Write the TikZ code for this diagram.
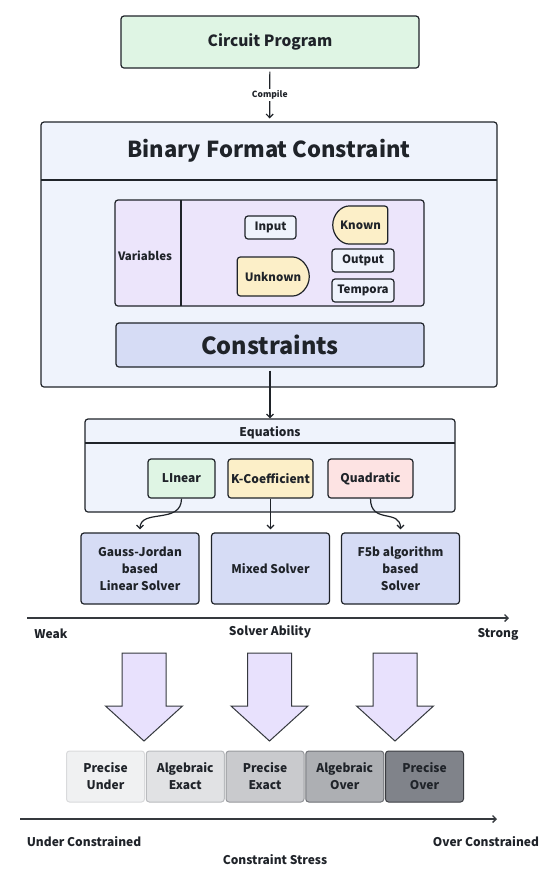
\documentclass[tikz,border=0pt]{standalone}
\usepackage{fontspec}
\setmainfont{Noto Sans CJK SC}
\usetikzlibrary{positioning, arrows.meta, shapes.misc}

\definecolor{ink}{HTML}{1F2329}
\definecolor{greenbg}{HTML}{DFF5E4}
\definecolor{bluebg}{HTML}{EFF3FC}
\definecolor{lilacbg}{HTML}{ECE5FB}
\definecolor{indigobg}{HTML}{D6DCF5}
\definecolor{yellowbg}{HTML}{FCEFC8}
\definecolor{pinkbg}{HTML}{FDE3E3}
\definecolor{arrowbg}{HTML}{E8E1FD}
\definecolor{lvlA}{HTML}{F0F1F2}
\definecolor{lvlB}{HTML}{E1E2E4}
\definecolor{lvlC}{HTML}{C9CACD}
\definecolor{lvlD}{HTML}{ADAFB3}
\definecolor{lvlE}{HTML}{80838A}
\definecolor{lvlAd}{HTML}{D9DADC}
\definecolor{lvlBd}{HTML}{B9BBBE}
\definecolor{lvlCd}{HTML}{97999D}
\definecolor{lvlDd}{HTML}{6E7075}
\definecolor{lvlEd}{HTML}{3B3D42}

\tikzset{
  box/.style={draw=ink, line width=1.2pt, rounded corners=3pt, align=center, text=ink,
    inner sep=0pt, font=\bfseries\fontsize{12}{17}\selectfont},
  tag/.style={box, fill=bluebg, minimum width=62pt, minimum height=23pt,
    font=\bfseries\fontsize{11.5}{14}\selectfont},
  half/.style={box, fill=yellowbg, rounded rectangle, font=\bfseries\fontsize{11.5}{14}\selectfont},
  kind/.style={box, minimum width=85pt, minimum height=39pt},
  solver/.style={box, fill=indigobg, minimum width=118pt, minimum height=71pt},
  level/.style={box, line width=1pt, minimum width=78pt, minimum height=51pt},
  label/.style={text=ink, font=\bfseries\fontsize{12}{15}\selectfont},
  conn/.style={draw=ink, line width=1.2pt, -{Straight Barb[length=3.5pt,width=7pt]}},
  axis/.style={draw=ink!90, line width=1.3pt, -{Straight Barb[length=3.5pt,width=7pt]}},
  bigarrow/.style={draw=ink!90, fill=arrowbg, line width=1pt, line join=miter},
}

\begin{document}
\begin{tikzpicture}[x=1pt, y=-1pt]
  \useasboundingbox (0,0) rectangle (554,884);

  % Source
  \node[box, fill=greenbg, minimum width=298pt, minimum height=52pt,
    font=\bfseries\fontsize{15.5}{19}\selectfont] (circuit) at (270,42) {Circuit Program};

  % Binary format constraint
  \node[box, fill=bluebg, minimum width=456pt, minimum height=265pt] (bfc) at (269,254.5) {};
  \node[text=ink, font=\bfseries\fontsize{22}{26}\selectfont] (bfctitle) at (269,151) {Binary Format Constraint};
  \draw[ink, line width=1.2pt] (41,180) -- (497,180);
  \draw[conn, shorten <=3pt, shorten >=3pt] (circuit) -- node[fill=white, inner sep=1.5pt, text=ink,
    font=\bfseries\fontsize{8.5}{10}\selectfont] (compile) {Compile} (bfc);

  % Variables
  \node[box, fill=lilacbg, minimum width=309pt, minimum height=106pt] (vars) at (269.5,253) {};
  \draw[ink, line width=1.2pt] (181,200) -- (181,306);
  \node[label, font=\bfseries\fontsize{11.5}{14}\selectfont] (varlabel) at (145,256) {Variables};
  \node[tag, minimum width=51pt] (input) at (270.5,227.5) {Input};
  \node[half, rounded rectangle east arc=none, minimum width=55pt, minimum height=38pt] (known) at (360.5,225) {Known};
  \node[half, rounded rectangle west arc=none, minimum width=72pt, minimum height=39pt] (unknown) at (273,276.5) {Unknown};
  \node[tag] (output) at (363,260.5) {Output};
  \node[tag] (tempora) at (363,290.5) {Tempora};

  % Constraints
  \node[box, fill=indigobg, minimum width=308pt, minimum height=44pt,
    font=\bfseries\fontsize{23.5}{28}\selectfont] (constraints) at (270,345) {Constraints};

  % Equations
  \node[box, fill=bluebg, minimum width=370pt, minimum height=93pt] (eqs) at (270,465.5) {};
  \node[label] (eqtitle) at (270,433) {Equations};
  \draw[ink, line width=1.2pt] (85,443) -- (455,443);
  \node[kind, fill=greenbg, minimum width=67pt] (linear) at (181.5,478.5) {LInear};
  \node[kind, fill=yellowbg] (kcoef) at (270.5,478.5) {K-Coefficient};
  \node[kind, fill=pinkbg] (quad) at (370.5,478.5) {Quadratic};
  \draw[conn, shorten <=3pt] (constraints) -- (eqs);

  % Solvers
  \node[solver] (gauss) at (140,568.5) {Gauss-Jordan\\based\\Linear Solver};
  \node[solver] (mixed) at (270.5,568.5) {Mixed Solver};
  \node[solver] (f5b) at (400.5,568.5) {F5b algorithm\\based\\Solver};
  \draw[conn, shorten >=3pt] (linear.south) .. controls +(0,26) and +(0,-24) .. (gauss.north);
  \draw[conn, shorten >=3pt] (kcoef.south) -- (mixed.north);
  \draw[conn, shorten >=3pt] (quad.south) .. controls +(0,26) and +(0,-24) .. (f5b.north);

  % Solver ability
  \coordinate (sa0) at (27,618);
  \coordinate (sa1) at (509,618);
  \draw[axis] (sa0) -- (sa1);
  \node[label] (weak) at (51,634) {Weak};
  \node[label] (ability) at (270,632) {Solver Ability};
  \node[label] (strong) at (498,634) {Strong};

  % Block arrows
  \foreach \cx in {144,269.5,395}
    \draw[bigarrow] (\cx-22,653) -- (\cx+22,653) -- (\cx+22,706) -- (\cx+38.5,706)
      -- (\cx,741) -- (\cx-38.5,706) -- (\cx-22,706) -- cycle;

  % Levels
  \foreach \i/\f/\d/\t in {0/lvlA/lvlAd/Precise\\Under, 1/lvlB/lvlBd/Algebraic\\Exact,
      2/lvlC/lvlCd/Precise\\Exact, 3/lvlD/lvlDd/Algebraic\\Over, 4/lvlE/lvlEd/Precise\\Over}
    \node[level, fill=\f, draw=\d] (lvl\i) at (105.5+79.75*\i,776.5) {\t};

  % Constraint stress
  \coordinate (cs0) at (20,819);
  \coordinate (cs1) at (497,819);
  \draw[axis] (cs0) -- (cs1);
  \node[label] (under) at (84,842) {Under Constrained};
  \node[label] (stress) at (275,860) {Constraint Stress};
  \node[label] (over) at (486,842) {Over Constrained};
\end{tikzpicture}
\end{document}
